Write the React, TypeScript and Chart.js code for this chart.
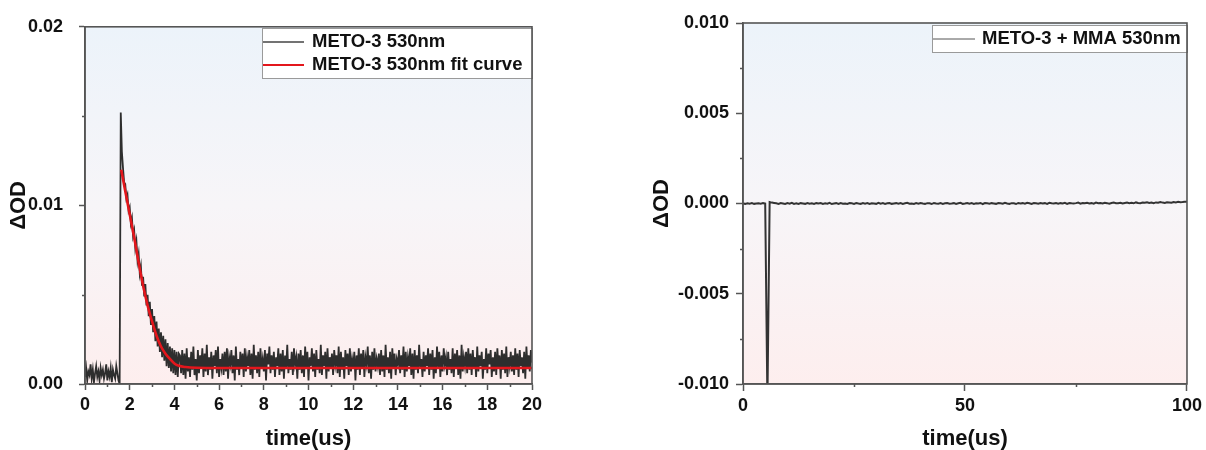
import React, { useEffect, useRef } from 'react';
import { Chart, registerables } from 'chart.js';

Chart.register(...registerables);

// ---------- DATA ----------
// Left panel: METO-3 530nm transient, sampled every 0.05 us from 0 to 20 us (values in units of 1e-4 ΔOD)
const LEFT_SAMPLE_STEP_US = 0.05;
const meto3Signal_e4 = [
  // 0.00 – 1.55 us (pre-trigger)
  4, 9, 2, 7, 5, 11, 3, 8, 1, 6, 10, 4, 7, 2, 9, 5, 8, 3, 6, 11, 2, 7, 4, 9, 1, 8, 5, 3, 10, 6, 2, 0,
  // 1.60 – 4.20 us (decay)
  152, 130, 121, 113, 112, 104, 106, 97, 99, 90, 93, 83, 86, 76, 80, 69, 73, 62, 66, 55, 60, 49, 56, 44, 50,
  38, 46, 33, 42, 29, 38, 24, 35, 21, 31, 18, 29, 15, 27, 13, 25, 10, 23, 9, 21, 7, 20, 6, 19, 5, 18, 4, 17,
  // 4.25 – 20.00 us (baseline)
  16, 6, 19, 5, 17, 3, 20, 7, 15, 4, 18, 8, 21, 5, 14, 2, 19, 6, 16, 9,
  20, 4, 17, 7, 22, 5, 15, 8, 18, 3, 16, 10, 19, 6, 21, 4, 14, 9, 17, 5,
  18, 7, 20, 3, 15, 11, 19, 6, 16, 2, 21, 8, 14, 5, 18, 9, 17, 4, 20, 7,
  15, 10, 19, 5, 17, 3, 22, 8, 16, 6, 18, 4, 20, 9, 14, 7, 19, 2, 17, 11,
  21, 6, 16, 8, 18, 4, 15, 10, 20, 5, 17, 7, 19, 3, 16, 9, 22, 6, 14, 8,
  18, 5, 20, 11, 15, 3, 17, 8, 19, 6, 16, 4, 21, 9, 18, 2, 15, 10, 20, 7,
  17, 4, 19, 8, 14, 6, 22, 5, 16, 10, 18, 3, 20, 7, 15, 9, 17, 5, 19, 11,
  16, 6, 21, 4, 18, 8, 15, 3, 19, 10, 17, 5, 20, 7, 14, 9, 18, 2, 16, 8,
  20, 5, 17, 9, 19, 4, 15, 11, 21, 6, 16, 3, 18, 8, 20, 7, 14, 10, 17, 5,
  19, 7, 16, 4, 22, 8, 15, 6, 18, 3, 20, 9, 17, 5, 14, 11, 19, 6, 16, 8,
  21, 4, 18, 7, 15, 10, 20, 5, 17, 3, 19, 8, 16, 6, 22, 9, 14, 4, 18, 7,
  16, 10, 20, 5, 17, 8, 19, 3, 15, 6, 21, 9, 18, 4, 16, 7, 20, 11, 15, 5,
  18, 8, 14, 6, 20, 4, 17, 9, 19, 5, 16, 3, 22, 7, 15, 10, 18, 6, 20, 8,
  17, 5, 19, 9, 15, 4, 21, 7, 16, 10, 18, 3, 14, 8, 20, 6, 17, 11, 19, 4,
  15, 7, 18, 5, 20, 9, 16, 3, 19, 8, 17, 6, 21, 4, 15, 10, 18, 7, 16, 5,
  20, 8, 17, 4, 19, 10, 15, 6, 18, 3, 21, 9, 16, 7, 19, 12,
];

// Fit curve (time in us, value in units of 1e-4 ΔOD)
const meto3FitTimes = [1.62, 1.8, 2.0, 2.2, 2.4, 2.6, 2.8, 3.0, 3.2, 3.4, 3.6, 3.8, 4.0, 4.2, 4.5, 5.0, 6.0, 20];
const meto3Fit_e4 = [120, 108, 95, 82, 68, 55, 44, 35, 27, 21, 17, 14, 11.5, 10.2, 9.5, 9.1, 9.0, 9.0];

// Right panel: METO-3 + MMA 530nm, sampled every 0.5 us from 0 to 100 us (values in units of 1e-5 ΔOD)
const RIGHT_SAMPLE_STEP_US = 0.5;
const mmaSignal_e5 = [
  0, -2, 1, -1, 2, -2, 0, 1, -1, 2, 0,
  -1100,
  8, 5, 3, 1, -2, 3, 0, -3, 2, -1, 4, -2, 1, -3, 2, 0, -2, 3, -1, 1,
  -3, 2, 0, 3, -2, 1, -1, 4, -3, 0, 2, -2, 3, -1, 0, -3, 2, 1, -2, 3,
  0, -2, 3, -1, 2, -3, 1, 0, -2, 4, -1, 2, -3, 1, 3, -2, 0, 2, -1, 3,
  -2, 1, 4, -1, 0, -3, 2, -1, 3, 0, -2, 2, 1, -3, 3, 0, -1, 2, -2, 1,
  3, -1, 0, 2, -3, 1, 4, -2, 0, 3, -1, 2, -2, 1, 0, 3, -3, 2, 1, -1,
  2, 0, -2, 3, 1, -1, 4, 0, -2, 2, 1, -3, 3, 0, 2, -1, 4, 1, -2, 3,
  1, -1, 3, 0, 2, -2, 4, 1, 0, 3, -1, 2, 0, 4, -2, 3, 1, 0, 2, 5,
  -1, 3, 1, 4, 0, 2, -1, 5, 1, 3, 0, 4, 2, -1, 3, 5, 1, 2, 4, 0,
  3, 5, 2, 4, 1, 6, 3, 2, 5, 4, 7, 3, 5, 2, 6, 4, 8, 5, 3, 7, 6, 4, 8, 6, 9, 7, 8, 10, 9,
];

// Axes
const leftXRange = [0, 20];
const leftXStep = 2;
const leftXMinor = [1, 3, 5, 7, 9, 11, 13, 15, 17, 19];
const leftYRange = [0, 0.02];
const leftYStep = 0.01;
const leftYMinor = [0.005, 0.015];

const rightXRange = [0, 100];
const rightXStep = 50;
const rightXMinor = [25, 75];
const rightYRange = [-0.01, 0.01];
const rightYStep = 0.005;
const rightYMinor = [-0.0075, -0.0025, 0.0025, 0.0075];

const leftLabels = ['METO-3 530nm', 'METO-3 530nm fit curve'];
const rightLabels = ['METO-3 + MMA 530nm'];
const xTitle = 'time(us)';
const yTitle = 'ΔOD';

// ---------- STYLE ----------
const FONT = "'Liberation Sans', Arial, Helvetica, sans-serif";
const AXIS_COLOR = '#555555';
const TEXT_COLOR = '#111111';

const panelPlugin = {
  id: 'panel',
  beforeDraw(chart: any) {
    const { ctx, chartArea: a } = chart;
    const g = ctx.createLinearGradient(0, a.top, 0, a.bottom);
    g.addColorStop(0, '#ecf3fa');
    g.addColorStop(0.5, '#f7f5f8');
    g.addColorStop(1, '#fdeeee');
    ctx.save();
    ctx.fillStyle = g;
    ctx.fillRect(a.left, a.top, a.right - a.left, a.bottom - a.top);
    ctx.restore();
  },
  afterDraw(chart: any, _args: any, opts: any) {
    const { ctx, chartArea: a, scales } = chart;
    ctx.save();
    // minor ticks
    ctx.strokeStyle = AXIS_COLOR;
    ctx.lineWidth = 1.5;
    ctx.beginPath();
    (opts.xMinor || []).forEach((v: number) => {
      const px = Math.round(scales.x.getPixelForValue(v)) + 0.5;
      ctx.moveTo(px, a.bottom);
      ctx.lineTo(px, a.bottom + 3);
    });
    (opts.yMinor || []).forEach((v: number) => {
      const py = Math.round(scales.y.getPixelForValue(v)) + 0.5;
      ctx.moveTo(a.left, py);
      ctx.lineTo(a.left - 3, py);
    });
    ctx.stroke();
    // legend
    const L = opts.legend;
    if (L) {
      ctx.fillStyle = '#ffffff';
      ctx.fillRect(L.left, L.top, L.right - L.left, L.bottom - L.top);
      ctx.strokeStyle = '#9a9a9a';
      ctx.lineWidth = 1;
      ctx.strokeRect(L.left + 0.5, L.top + 0.5, L.right - L.left, L.bottom - L.top);
      ctx.font = `bold ${L.fontSize}px ${FONT}`;
      ctx.textBaseline = 'middle';
      ctx.textAlign = 'left';
      chart.data.datasets.forEach((ds: any, i: number) => {
        const y = L.rows[i];
        ctx.strokeStyle = ds.legendColor || ds.borderColor;
        ctx.lineWidth = ds.legendLineWidth || ds.borderWidth;
        ctx.beginPath();
        ctx.moveTo(L.lineX[0], y);
        ctx.lineTo(L.lineX[1], y);
        ctx.stroke();
        ctx.fillStyle = TEXT_COLOR;
        ctx.fillText(ds.label, L.textX, y);
      });
    }
    // frame
    ctx.strokeStyle = AXIS_COLOR;
    ctx.lineWidth = 1.6;
    ctx.strokeRect(a.left, a.top, a.right - a.left, a.bottom - a.top);
    ctx.restore();
  },
};

function fmtTick(v: number, digits: number) {
  const val = Math.abs(v) < 1e-12 ? 0 : v;
  return val.toFixed(digits);
}

function makeScales(p: {
  xRange: number[]; xStep: number; yRange: number[]; yStep: number; yDigits: number;
  yAxisWidth: number; xAxisHeight: number; yTitlePad: number; yTickPad: number; tickLen: number;
}) {
  const tickFont = { family: FONT, size: 18, weight: 'bold' as const };
  const titleFont = { family: FONT, size: 22, weight: 'bold' as const };
  return {
    x: {
      type: 'linear' as const,
      min: p.xRange[0],
      max: p.xRange[1],
      afterFit: (s: any) => { s.height = p.xAxisHeight; },
      ticks: {
        stepSize: p.xStep,
        autoSkip: false,
        maxRotation: 0,
        padding: 4,
        color: TEXT_COLOR,
        font: tickFont,
        callback: (v: any) => String(Math.round(Number(v))),
      },
      grid: { display: true, drawOnChartArea: false, drawTicks: true, tickLength: p.tickLen, tickColor: AXIS_COLOR, tickWidth: 1.5 },
      border: { display: true, color: AXIS_COLOR, width: 1.6 },
      title: { display: true, text: xTitle, color: TEXT_COLOR, font: titleFont, padding: { top: 0, bottom: -2 } },
    },
    y: {
      type: 'linear' as const,
      min: p.yRange[0],
      max: p.yRange[1],
      afterFit: (s: any) => { s.width = p.yAxisWidth; },
      ticks: {
        stepSize: p.yStep,
        autoSkip: false,
        padding: p.yTickPad,
        color: TEXT_COLOR,
        font: tickFont,
        callback: (v: any) => fmtTick(Number(v), p.yDigits),
      },
      grid: { display: true, drawOnChartArea: false, drawTicks: true, tickLength: p.tickLen, tickColor: AXIS_COLOR, tickWidth: 1.5 },
      border: { display: true, color: AXIS_COLOR, width: 1.6 },
      title: { display: true, text: yTitle, color: TEXT_COLOR, font: titleFont, padding: { top: p.yTitlePad, bottom: 0 } },
    },
  };
}

export default function App() {
  const leftRef = useRef<HTMLCanvasElement | null>(null);
  const rightRef = useRef<HTMLCanvasElement | null>(null);

  useEffect(() => {
    document.body.style.margin = '0';
    document.body.style.background = '#ffffff';

    const leftData = meto3Signal_e4.map((v, i) => ({ x: i * LEFT_SAMPLE_STEP_US, y: v * 1e-4 }));
    const leftFit = meto3FitTimes.map((t, i) => ({ x: t, y: meto3Fit_e4[i] * 1e-4 }));
    const rightData = mmaSignal_e5.map((v, i) => ({ x: i * RIGHT_SAMPLE_STEP_US, y: v * 1e-5 }));

    const left = new Chart(leftRef.current as HTMLCanvasElement, {
      type: 'line',
      data: {
        datasets: [
          { label: leftLabels[0], data: leftData, borderColor: '#2e2e2e', borderWidth: 1.8, pointRadius: 0, tension: 0, order: 1, legendLineWidth: 1.5, legendColor: '#444' } as any,
          { label: leftLabels[1], data: leftFit, borderColor: '#e3161c', borderWidth: 2.6, pointRadius: 0, tension: 0.3, order: 0, cubicInterpolationMode: 'monotone', legendLineWidth: 2.2 } as any,
        ],
      },
      options: {
        responsive: false,
        animation: false,
        parsing: false as any,
        layout: { padding: { left: 0, right: 68, top: 23, bottom: 0 } },
        scales: makeScales({
          xRange: leftXRange, xStep: leftXStep, yRange: leftYRange, yStep: leftYStep, yDigits: 2,
          yAxisWidth: 85, xAxisHeight: 66, yTitlePad: 6, yTickPad: 16, tickLen: 6,
        }) as any,
        plugins: {
          legend: { display: false },
          tooltip: { enabled: false },
          panel: {
            xMinor: leftXMinor,
            yMinor: leftYMinor,
            legend: { left: 262, top: 28, right: 532, bottom: 78, rows: [42, 65], lineX: [263, 304], textX: 312, fontSize: 18.5 },
          },
        } as any,
      },
      plugins: [panelPlugin],
    });

    const right = new Chart(rightRef.current as HTMLCanvasElement, {
      type: 'line',
      data: {
        datasets: [
          { label: rightLabels[0], data: rightData, borderColor: '#333333', borderWidth: 2, pointRadius: 0, tension: 0, legendLineWidth: 1, legendColor: '#555' } as any,
        ],
      },
      options: {
        responsive: false,
        animation: false,
        parsing: false as any,
        layout: { padding: { left: 0, right: 17, top: 23, bottom: 0 } },
        scales: makeScales({
          xRange: rightXRange, xStep: rightXStep, yRange: rightYRange, yStep: rightYStep, yDigits: 3,
          yAxisWidth: 143, xAxisHeight: 66, yTitlePad: 49, yTickPad: 7, tickLen: 7,
        }) as any,
        plugins: {
          legend: { display: false },
          tooltip: { enabled: false },
          panel: {
            xMinor: rightXMinor,
            yMinor: rightYMinor,
            legend: { left: 332, top: 25, right: 587, bottom: 52, rows: [39], lineX: [333, 375], textX: 382, fontSize: 18.5 },
          },
        } as any,
      },
      plugins: [panelPlugin],
    });

    return () => {
      left.destroy();
      right.destroy();
    };
  }, []);

  return (
    <div style={{ position: 'relative', width: 1206, height: 450, background: '#ffffff' }}>
      <canvas ref={leftRef} width={600} height={450} style={{ position: 'absolute', left: 0, top: 0 }} />
      <canvas ref={rightRef} width={606} height={450} style={{ position: 'absolute', left: 600, top: 0 }} />
    </div>
  );
}
